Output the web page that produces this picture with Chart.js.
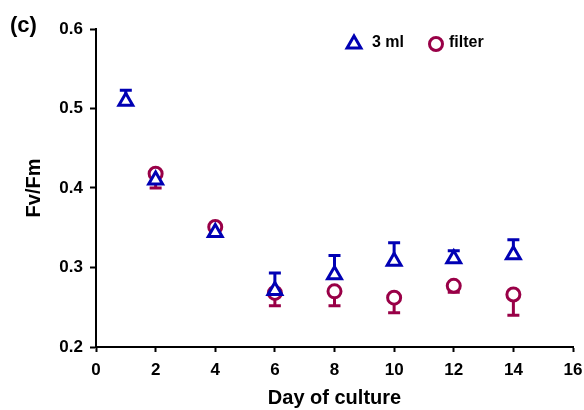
<!DOCTYPE html>
<html>
<head>
<meta charset="utf-8">
<script src="https://cdn.jsdelivr.net/npm/chart.js@4/dist/chart.umd.min.js"></script>
<style>
  html, body { margin: 0; padding: 0; background: #fff; }
  canvas { display: block; }
</style>
</head>
<body>
<canvas id="chart" width="584" height="410"></canvas>
<script>
// data
const days3ml = [1, 2, 4, 6, 8, 10, 12, 14];
const fv3ml = [0.509, 0.410, 0.344, 0.271, 0.291, 0.308, 0.311, 0.316];
const err3ml = [0.014, 0.006, 0.005, 0.022, 0.024, 0.023, 0.010, 0.019];

const daysFilter = [2, 4, 6, 8, 10, 12, 14];
const fvFilter = [0.418, 0.351, 0.268, 0.270, 0.262, 0.277, 0.266];
const errFilter = [0.018, 0.005, 0.016, 0.018, 0.019, 0.008, 0.026];

const xTicks = [0, 2, 4, 6, 8, 10, 12, 14, 16];
const yTicks = [0.2, 0.3, 0.4, 0.5, 0.6];

const blue = '#0000b4';
const purple = '#990047';

Chart.defaults.font.family = '"Liberation Sans", Arial, sans-serif';
Chart.defaults.font.weight = 'bold';
Chart.defaults.color = '#000';

function pts(xs, ys) {
  return xs.map((x, i) => ({ x: x, y: ys[i] }));
}

// error bars: 3 ml goes up, filter goes down
const errorBars = {
  id: 'errorBars',
  beforeDatasetsDraw(chart) {
    const ctx = chart.ctx;
    const y = chart.scales.y;
    chart.data.datasets.forEach((ds, i) => {
      const meta = chart.getDatasetMeta(i);
      ctx.save();
      ctx.strokeStyle = ds.borderColor;
      ctx.lineWidth = 3;
      meta.data.forEach((pt, j) => {
        const yy = y.getPixelForValue(ds.data[j].y + ds.dir * ds.err[j]);
        ctx.beginPath();
        ctx.moveTo(pt.x, pt.y);
        ctx.lineTo(pt.x, yy);
        ctx.moveTo(pt.x - 6, yy);
        ctx.lineTo(pt.x + 6, yy);
        ctx.stroke();
      });
      ctx.restore();
    });
  }
};

// panel letter and the legend inside the plot
const labels = {
  id: 'labels',
  afterDraw(chart) {
    const ctx = chart.ctx;
    ctx.save();
    ctx.fillStyle = '#000';
    ctx.textBaseline = 'middle';
    ctx.font = 'bold 22px "Liberation Sans", Arial, sans-serif';
    ctx.fillText('(c)', 10, 26);
    ctx.restore();

    const items = [[354, 372], [436, 449]];
    chart.data.datasets.forEach((ds, i) => {
      ctx.save();
      ctx.strokeStyle = ds.borderColor;
      ctx.fillStyle = '#fff';
      ctx.lineWidth = 3;
      Chart.helpers.drawPoint(ctx, {
        pointStyle: ds.pointStyle, radius: ds.pointRadius, borderWidth: 3
      }, items[i][0], 44);
      ctx.fillStyle = '#000';
      ctx.textBaseline = 'middle';
      ctx.font = 'bold 16px "Liberation Sans", Arial, sans-serif';
      ctx.fillText(ds.label, items[i][1], 43);
      ctx.restore();
    });
  }
};

new Chart(document.getElementById('chart').getContext('2d'), {
  type: 'scatter',
  data: {
    datasets: [
      {
        label: '3 ml',
        data: pts(days3ml, fv3ml),
        err: err3ml,
        dir: 1,
        pointStyle: 'triangle',
        pointRadius: 8,
        borderWidth: 3,
        borderColor: blue,
        backgroundColor: '#fff'
      }, {
        label: 'filter',
        data: pts(daysFilter, fvFilter),
        err: errFilter,
        dir: -1,
        pointStyle: 'circle',
        pointRadius: 6.5,
        borderWidth: 3,
        borderColor: purple,
        backgroundColor: '#fff'
      }
    ]
  },
  options: {
    responsive: false,
    animation: false,
    devicePixelRatio: 1,
    layout: { padding: { left: 0, right: 10, top: 29, bottom: 0 } },
    plugins: {
      legend: { display: false },
      tooltip: { enabled: false }
    },
    scales: {
      x: {
        type: 'linear',
        min: 0,
        max: 16,
        afterBuildTicks(scale) { scale.ticks = xTicks.map(v => ({ value: v })); },
        afterFit(scale) {
          scale.height = 63;
          scale.paddingLeft = 0;
          scale.paddingRight = 0;
        },
        ticks: { font: { size: 17 }, padding: 8, maxRotation: 0 },
        grid: { drawOnChartArea: false, tickLength: 5, tickWidth: 2, color: '#000' },
        border: { color: '#000', width: 2 },
        title: { display: true, text: 'Day of culture', font: { size: 20 }, padding: 0 }
      },
      y: {
        min: 0.2,
        max: 0.6,
        afterBuildTicks(scale) { scale.ticks = yTicks.map(v => ({ value: v })); },
        afterFit(scale) {
          scale.width = 96;
          scale.paddingTop = 0;
          scale.paddingBottom = 0;
        },
        ticks: { font: { size: 17 }, padding: 7, callback: v => v.toFixed(1) },
        grid: { drawOnChartArea: false, tickLength: 6, tickWidth: 2, color: '#000' },
        border: { color: '#000', width: 2 },
        title: { display: true, text: 'Fv/Fm', font: { size: 20 }, padding: { top: 22, bottom: 0 } }
      }
    }
  },
  plugins: [errorBars, labels]
});
</script>
</body>
</html>
